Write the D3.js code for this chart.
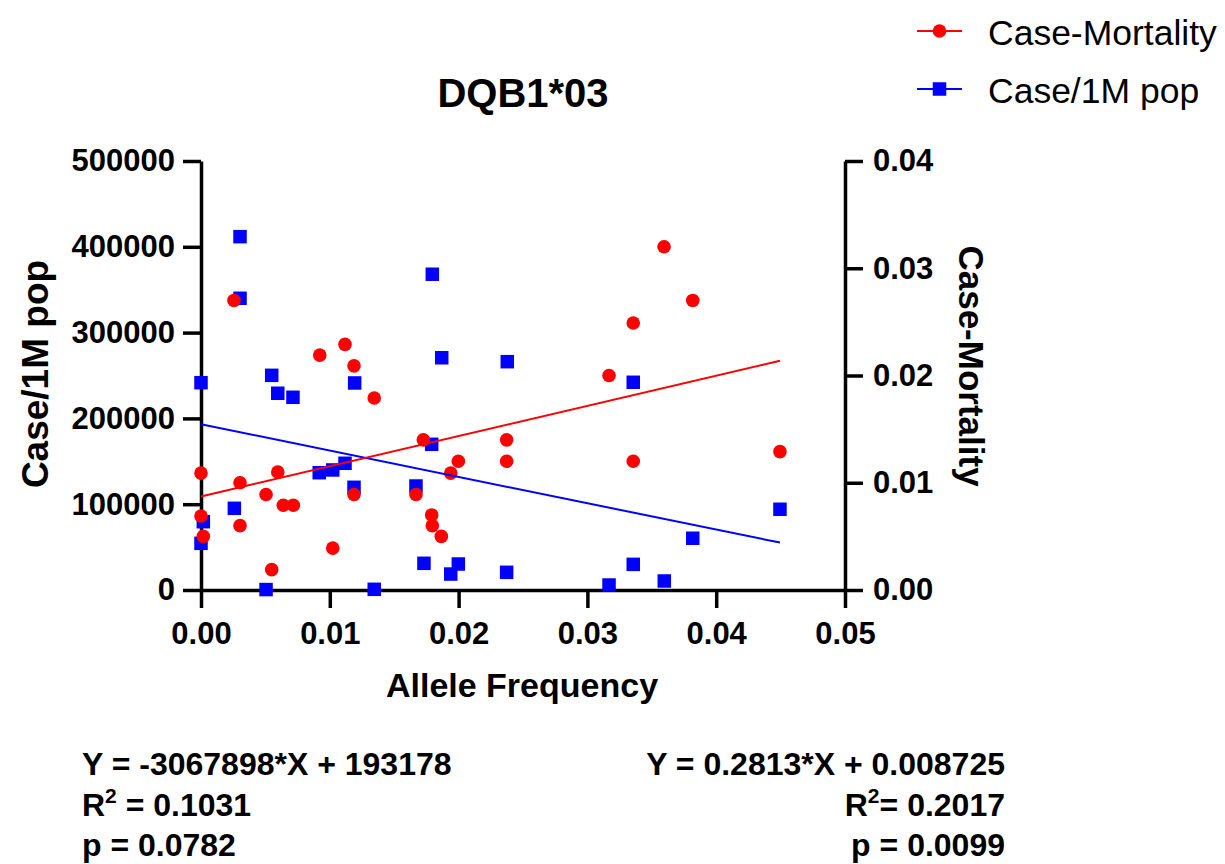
<!DOCTYPE html>
<html>
<head>
<meta charset="utf-8">
<script src="https://cdn.jsdelivr.net/npm/d3@7"></script>
<style>
  body { margin: 0; background: #fff; }
  text { font-family: "Liberation Sans", Arial, sans-serif; fill: #000; }
</style>
</head>
<body>
<svg id="chart" width="1225" height="864"></svg>
<script>
// Case-mortality vs allele frequency (right axis)
const mortalityFreq = [0, 0, 0.00018, 0.00256, 0.00303, 0.00303, 0.00505, 0.00549, 0.00596, 0.00639,
  0.00717, 0.00922, 0.01023, 0.01118, 0.01188, 0.01188, 0.01345, 0.01669, 0.01726, 0.01791,
  0.01796, 0.01866, 0.01939, 0.01998, 0.02373, 0.02373, 0.03168, 0.03356, 0.03356, 0.03595,
  0.03818, 0.04495];
const caseMortality = [0.0109, 0.0069, 0.0050, 0.0270, 0.0100, 0.0060, 0.0089, 0.0019, 0.0110, 0.0079,
  0.0079, 0.0219, 0.0039, 0.0229, 0.0209, 0.0089, 0.0179, 0.0089, 0.0140, 0.0070,
  0.0060, 0.0050, 0.0109, 0.0120, 0.0140, 0.0120, 0.0200, 0.0249, 0.0120, 0.0320,
  0.0270, 0.0129];

// Cases per million population vs allele frequency (left axis)
const popFreq = [0, 0, 0.00018, 0.00259, 0.00303, 0.00303, 0.00505, 0.00549, 0.00596, 0.00714,
  0.00918, 0.01023, 0.01118, 0.01188, 0.01193, 0.01345, 0.01669, 0.01731, 0.01791, 0.01796,
  0.01869, 0.01939, 0.01998, 0.02373, 0.02378, 0.03168, 0.03356, 0.03356, 0.03597, 0.03818,
  0.04495];
const casesPerMillion = [241600, 54400, 79600, 95200, 411800, 340000, 500, 250200, 229300, 224600,
  136700, 139900, 147700, 119700, 241300, 800, 121200, 31100, 169800, 368000,
  270700, 18600, 30300, 20600, 266100, 5800, 242100, 29900, 10500, 60300,
  94100];

const xTicks = [0, 0.01, 0.02, 0.03, 0.04, 0.05];
const leftTicks = [0, 100000, 200000, 300000, 400000, 500000];
const rightTicks = [0, 0.01, 0.02, 0.03, 0.04];

// Linear fits
const popFit = { slope: -3067898, intercept: 193178, r2: "0.1031", p: "0.0782" };
const mortFit = { slope: 0.2813, intercept: 0.008725, r2: "0.2017", p: "0.0099" };

const RED = "#ff0000", BLUE = "#0000ff";
const FONT = '"Liberation Sans", Arial, sans-serif';

const svg = d3.select("#chart");
svg.append("rect").attr("width", 1225).attr("height", 864).attr("fill", "#fff");

const plot = { left: 201, right: 845, top: 161, bottom: 590 };
const x = d3.scaleLinear().domain([0, 0.05]).range([plot.left, plot.right]);
const yL = d3.scaleLinear().domain([0, 500000]).range([plot.bottom, plot.top]);
const yR = d3.scaleLinear().domain([0, 0.04]).range([plot.bottom, plot.top]);

function styleAxis(g) {
  g.selectAll("path, line").attr("stroke", "#000").attr("stroke-width", 3.5);
  g.selectAll("text").attr("font-family", FONT).attr("font-size", 31)
    .attr("font-weight", "bold").attr("fill", "#000");
}

svg.append("g").attr("transform", `translate(0,${plot.bottom})`)
  .call(d3.axisBottom(x).tickValues(xTicks).tickFormat(d3.format(".2f"))
    .tickSize(18).tickSizeOuter(0).tickPadding(14))
  .call(styleAxis);

svg.append("g").attr("transform", `translate(${plot.left},0)`)
  .call(d3.axisLeft(yL).tickValues(leftTicks).tickFormat(d3.format("d"))
    .tickSize(18).tickSizeOuter(0).tickPadding(8))
  .call(styleAxis);

svg.append("g").attr("transform", `translate(${plot.right},0)`)
  .call(d3.axisRight(yR).tickValues(rightTicks).tickFormat(d3.format(".2f"))
    .tickSize(18).tickSizeOuter(0).tickPadding(10))
  .call(styleAxis);

// Axis titles and chart title
svg.append("text").attr("x", 523).attr("y", 107).attr("text-anchor", "middle")
  .attr("font-size", 40).attr("font-weight", "bold").text("DQB1*03");
svg.append("text").attr("x", 522).attr("y", 697).attr("text-anchor", "middle")
  .attr("font-size", 34).attr("font-weight", "bold").text("Allele Frequency");
svg.append("text").attr("transform", "translate(48,374) rotate(-90)").attr("text-anchor", "middle")
  .attr("font-size", 37).attr("font-weight", "bold").text("Case/1M pop");
svg.append("text").attr("transform", "translate(959,366) rotate(90)").attr("text-anchor", "middle")
  .attr("font-size", 35).attr("font-weight", "bold").text("Case-Mortality");

// Data points
const sq = 13.5;
svg.append("g").selectAll("rect").data(popFreq.map((f, i) => [f, casesPerMillion[i]]))
  .join("rect")
  .attr("x", d => x(d[0]) - sq / 2).attr("y", d => yL(d[1]) - sq / 2)
  .attr("width", sq).attr("height", sq).attr("fill", BLUE);

svg.append("g").selectAll("circle").data(mortalityFreq.map((f, i) => [f, caseMortality[i]]))
  .join("circle")
  .attr("cx", d => x(d[0])).attr("cy", d => yR(d[1])).attr("r", 6.8).attr("fill", RED);

// Regression lines over the observed range
const popMax = d3.max(popFreq), mortMax = d3.max(mortalityFreq);
const line = d3.line();
svg.append("path")
  .attr("d", line([[x(0), yL(popFit.intercept)], [x(popMax), yL(popFit.slope * popMax + popFit.intercept)]]))
  .attr("stroke", BLUE).attr("stroke-width", 2).attr("fill", "none");
svg.append("path")
  .attr("d", line([[x(0), yR(mortFit.intercept)], [x(mortMax), yR(mortFit.slope * mortMax + mortFit.intercept)]]))
  .attr("stroke", RED).attr("stroke-width", 2).attr("fill", "none");

// Legend
const legend = [
  { label: "Case-Mortality", color: RED, shape: "circle", y: 31 },
  { label: "Case/1M pop", color: BLUE, shape: "square", y: 89 }
];
const lg = svg.append("g");
legend.forEach(d => {
  lg.append("line").attr("x1", 917).attr("x2", 962).attr("y1", d.y).attr("y2", d.y)
    .attr("stroke", d.color).attr("stroke-width", 2);
  if (d.shape === "circle") {
    lg.append("circle").attr("cx", 939.5).attr("cy", d.y).attr("r", 6.8).attr("fill", d.color);
  } else {
    lg.append("rect").attr("x", 939.5 - sq / 2).attr("y", d.y - sq / 2)
      .attr("width", sq).attr("height", sq).attr("fill", d.color);
  }
  lg.append("text").attr("x", 988).attr("y", d.y + 14).attr("font-size", 35.5).text(d.label);
});

// Fit statistics
function statBlock(xPos, anchor, fit, eq, r2Gap) {
  const g = svg.append("g").attr("font-size", 32).attr("font-weight", "bold")
    .attr("text-anchor", anchor);
  g.append("text").attr("x", xPos).attr("y", 775).text(eq);
  const r = g.append("text").attr("x", xPos).attr("y", 816);
  r.append("tspan").text("R");
  r.append("tspan").attr("font-size", 21).attr("dy", -13).text("2");
  r.append("tspan").attr("dy", 13).text((r2Gap ? " = " : "= ") + fit.r2);
  g.append("text").attr("x", xPos).attr("y", 856).text("p = " + fit.p);
}
statBlock(82, "start", popFit, `Y = ${popFit.slope}*X + ${popFit.intercept}`, true);
statBlock(1005, "end", mortFit, `Y = ${mortFit.slope}*X + ${mortFit.intercept}`, false);
</script>
</body>
</html>
